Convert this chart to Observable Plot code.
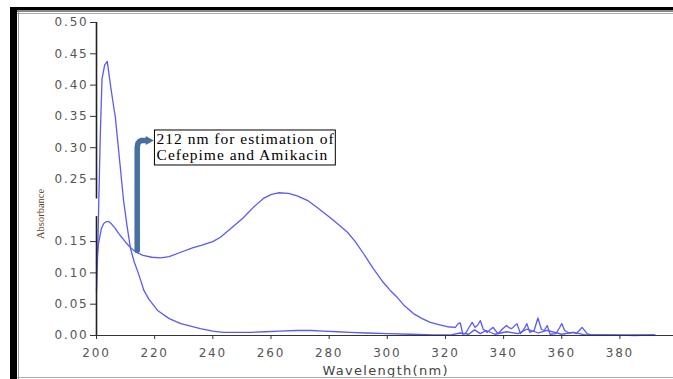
<!DOCTYPE html>
<html><head><meta charset="utf-8">
<script src="https://cdn.jsdelivr.net/npm/d3@7"></script>
<script src="https://cdn.jsdelivr.net/npm/@observablehq/plot@0.6"></script>
<style>
html,body{margin:0;padding:0;background:#fff;}
#wrap{position:relative;width:673px;height:379px;overflow:hidden;background:#fff;}
#wrap svg{position:absolute;left:0;top:0;}
.fr{position:absolute;}
#wrap [aria-label="y-axis tick label"] text, #wrap [aria-label="x-axis tick label"] text{letter-spacing:1.8px;}
</style></head><body>
<div id="wrap">
 <div class="fr" style="left:10px;top:7px;width:7px;height:372px;background:#000"></div>
 <div class="fr" style="left:10px;top:7px;width:663px;height:3px;background:#000"></div>
 <div class="fr" style="left:17px;top:10px;width:656px;height:2px;background:#888"></div>
 <div class="fr" style="left:17px;top:13px;width:656px;height:1px;background:#aaa"></div>
 <div class="fr" style="left:18px;top:12px;width:1px;height:367px;background:#999"></div>
 <div class="fr" style="left:17px;top:377px;width:656px;height:1px;background:#aaa"></div>
</div>
<script>
// Sharp-peak spectrum (wavelength nm, absorbance)
const sharpPeak = [
 [200,0.070],[200.4,0.130],[200.8,0.216],[201.3,0.320],[201.9,0.410],[202.8,0.432],[203.7,0.438],
 [204.8,0.400],[205.6,0.375],[206.5,0.348],[207.9,0.282],[209.3,0.216],[210.5,0.175],[211.7,0.139],
 [213,0.117],[214.2,0.102],[215.2,0.088],[216.3,0.072],[218,0.058],[221,0.040],[225,0.027],[229,0.019],
 [235.7,0.011],[240,0.007],[243.6,0.005],[248,0.005],[253,0.005],[258,0.006],[263,0.007],[269,0.008],
 [274,0.008],[278,0.007],[283,0.006],[287,0.005],[293,0.004],[300,0.003],[308,0.002],[316,0.001],
 [322,0.001],[325,0.004],[328,0.002],[330,0.009],[332,0.003],[334,0.008],[337,0.002],[341,0.006],
 [345,0.003],[348,0.010],[352,0.004],[355,0.008],[360,0.002],[364,0.005],[368,0.001],[372,0.001],
 [378,0.001],[385,0.000],[392,0.001]
];
// Broad-band spectrum (wavelength nm, absorbance)
const broadBand = [
 [200,0.115],[200.7,0.147],[201.7,0.171],[202.5,0.179],[203.4,0.182],[204.2,0.182],[205,0.179],
 [206.3,0.172],[207.6,0.163],[209,0.155],[210,0.149],[212,0.139],[213.7,0.133],[216,0.128],[219,0.125],
 [222,0.124],[225,0.126],[229,0.133],[233,0.140],[236,0.144],[240,0.150],[242.6,0.157],[246,0.170],
 [250.5,0.188],[254,0.205],[257.4,0.219],[260,0.225],[262.5,0.228],[266,0.227],[269,0.223],[272.5,0.216],
 [276,0.204],[280.4,0.188],[283,0.178],[286.3,0.165],[289,0.150],[291.8,0.131],[295.2,0.107],[298.6,0.085],
 [301,0.072],[303.4,0.061],[306,0.047],[309,0.035],[312,0.027],[314.8,0.021],[318,0.017],[320.6,0.014],
 [323.4,0.013],[324.4,0.019],[325.1,0.020],[326,0.002],[327,0.004],[328,0.012],[329.2,0.021],[330.2,0.013],
 [331,0.016],[332,0.024],[333,0.010],[334.4,0.005],[335.5,0.010],[336.4,0.013],[337.2,0.008],[338.1,0.003],
 [339.5,0.010],[341,0.016],[342,0.012],[342.8,0.011],[343.7,0.015],[344.6,0.019],[345.8,0.003],[347,0.010],
 [348,0.019],[349,0.005],[350.5,0.008],[351.8,0.028],[353,0.010],[354,0.008],[355,0.016],[356,0.002],
 [358,0.003],[359.2,0.012],[360,0.019],[361,0.008],[362.5,0.004],[364,0.005],[365,0.003],[366,0.008],
 [367,0.013],[368.7,0.003],[370,0.001],[375,0.001],[380,0.0005],[385,0.001],[392,0.001]
];
const xTicks = [200,220,240,260,280,300,320,340,360,380];
const yTicks = [0,0.05,0.10,0.15,0.25,0.30,0.35,0.40,0.45,0.50];
const yAxisSegments = [{y1:0,y2:0.19},{y1:0.218,y2:0.5}];
const annotationText = ["212 nm for estimation of\nCefepime and Amikacin"];
const annotationBox = [{x1:220.1,x2:282.3,y1:0.2716,y2:0.3275}];
const arrowPath = [[214,0.1358],[214,0.300],[214.25,0.307],[214.9,0.3105],[215.6,0.3115],[217.2,0.3115]];
const arrowHead = [[217.85,0.3115]];
const yTitle = ["Absorbance"];
const xTitle = ["Wavelength(nm)"];

const lineColor = "#5a5af6";
const arrowColor = "#46709f";

const chart = Plot.plot({
  width: 673, height: 379,
  marginLeft: 96, marginRight: 18.7, marginTop: 22, marginBottom: 44,
  x: {domain: [200, 392]},
  y: {domain: [0, 0.5]},
  style: {fontFamily: "DejaVu Sans, sans-serif", background: "transparent"},
  marks: [
    Plot.line(sharpPeak, {x: d => d[0], y: d => d[1], stroke: lineColor, strokeWidth: 1.3}),
    Plot.line(broadBand, {x: d => d[0], y: d => d[1], stroke: lineColor, strokeWidth: 1.3}),
    Plot.ruleX(yAxisSegments, {x: 200, y1: "y1", y2: "y2", stroke: "#222", strokeWidth: 1.6}),
    Plot.ruleY([0], {x1: 200, x2: 400, stroke: "#333", strokeWidth: 1.2}),
    Plot.axisY(yTicks, {tickSize: 6, tickPadding: 2, tickFormat: d3.format(".2f"), fontSize: 12, fill: "#555", stroke: "#333", label: null}),
    Plot.axisX(xTicks, {tickSize: 4, tickPadding: 9, fontSize: 12, fill: "#555", stroke: "#333", label: null}),
    Plot.line(arrowPath, {x: d => d[0], y: d => d[1], stroke: arrowColor, strokeWidth: 5.5, strokeLinejoin: "round"}),
    Plot.dot(arrowHead, {x: d => d[0], y: d => d[1], symbol: "triangle", r: 3.4, rotate: 90, fill: arrowColor, stroke: "none"}),
    Plot.rect(annotationBox, {x1: "x1", x2: "x2", y1: "y1", y2: "y2", fill: "white", stroke: "black", strokeWidth: 1}),
    Plot.text(annotationText, {x: 220.65, y: 0.3233, text: d => d, textAnchor: "start", lineAnchor: "top", lineHeight: 1.0, fontFamily: "Liberation Serif, serif", fontSize: 15.5, fill: "black"}),
    Plot.text(yTitle, {frameAnchor: "left", dx: -56, dy: 60, rotate: -90, text: d => d, fontFamily: "Liberation Serif, serif", fontSize: 10.5, fill: "#5e4426"}),
    Plot.text(xTitle, {frameAnchor: "bottom", dx: 10, dy: 39, text: d => d, fontSize: 13, fill: "#444"})
  ]
});
const sel = d3.select(chart).selectAll("text");
sel.filter(function() { return this.textContent.startsWith("212"); }).style("letter-spacing", "1px");
sel.filter(function() { return this.textContent.startsWith("Wavelength"); }).style("letter-spacing", "1.3px");
document.getElementById("wrap").prepend(chart);
</script>
</body></html>
